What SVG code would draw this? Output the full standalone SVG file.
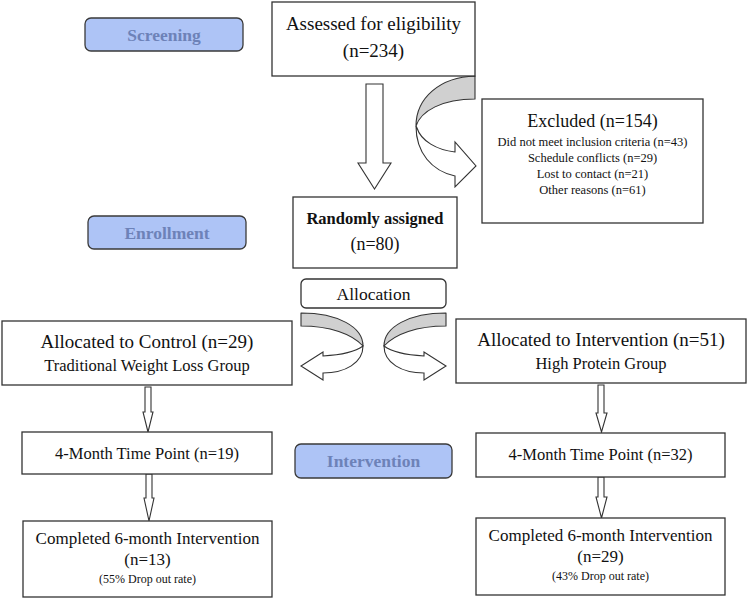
<svg xmlns="http://www.w3.org/2000/svg" width="747" height="599" viewBox="0 0 747 599">
<style>
  .box { fill: #ffffff; stroke: #333333; stroke-width: 1.3; }
  .pill { fill: #aec4f6; stroke: #3a3a3a; stroke-width: 1.3; }
  .t { font-family: "Liberation Serif", "DejaVu Serif", serif; fill: #111111; text-anchor: middle; }
  .ph { font-family: "Liberation Serif", "DejaVu Serif", serif; font-weight: bold; fill: #6d82b8; text-anchor: middle; font-size: 17.5px; }
  .arr { fill: #ffffff; stroke: #333333; stroke-width: 1.1; stroke-linejoin: miter; }
  .band { fill: #d0d0d0; stroke: #333333; stroke-width: 1.1; stroke-linejoin: round; }
</style>
<rect width="747" height="599" fill="#ffffff"/>

<g id="connectors">
  <!-- Assessed -> Randomly assigned -->
  <polygon class="arr" points="366,84 383,84 383,163 391,163 374.5,189 358,163 366,163"/>
  <!-- Assessed -> Excluded curved arrow -->
  <path class="band" d="M475,76 C440,77 416,98 416,126 C421,111 442,99 475,99 Z"/>
  <path class="arr" d="M416,126 C416,153 432,171 455,176 L455,187 L476,166 L455,142 L455,152 C437,150 421,141 417,128 Z"/>
  <!-- Allocation -> Control (left curved arrow) -->
  <g id="curve-left">
    <path class="band" d="M301,313 C338,313 363,327 363,346 C352,334 330,326 301,326 Z"/>
    <path class="arr" d="M363,346 C363,363 345,373 323,373 L323,380 L301,366 L323,352 L323,356 C340,355 355,352 363,346 Z"/>
  </g>
  <!-- Allocation -> Intervention (mirrored) -->
  <g id="curve-right" transform="translate(747,0) scale(-1,1)">
    <path class="band" d="M301,313 C338,313 363,327 363,346 C352,334 330,326 301,326 Z"/>
    <path class="arr" d="M363,346 C363,363 345,373 323,373 L323,380 L301,366 L323,352 L323,356 C340,355 355,352 363,346 Z"/>
  </g>
  <!-- small down arrows -->
  <polygon class="arr" points="145,387 151,387 151,412 153,412 148,432 143,412 145,412"/>
  <polygon class="arr" points="146,474 152,474 152,498 154,498 149,521 144,498 146,498"/>
  <polygon class="arr" points="598,385 604,385 604,413 607,413 601.5,432 596,413 598,413"/>
  <polygon class="arr" points="598,477 604,477 604,497 607,497 601.5,518 596,497 598,497"/>
</g>

<g id="phase-screening">
  <rect class="pill" x="85" y="18" width="158" height="33" rx="6"/>
  <text class="ph" x="164" y="41">Screening</text>
</g>
<g id="phase-enrollment">
  <rect class="pill" x="88" y="216" width="158" height="33" rx="6"/>
  <text class="ph" x="167" y="239">Enrollment</text>
</g>
<g id="phase-intervention">
  <rect class="pill" x="295" y="444" width="157" height="34" rx="6"/>
  <text class="ph" x="373.5" y="467">Intervention</text>
</g>

<g id="assessed">
  <rect class="box" x="272" y="2" width="203" height="74"/>
  <text class="t" x="373.5" y="30" font-size="19">Assessed for eligibility</text>
  <text class="t" x="373.5" y="57" font-size="19">(n=234)</text>
</g>

<g id="excluded">
  <rect class="box" x="482" y="99" width="221" height="124"/>
  <text class="t" x="592.5" y="127" font-size="18">Excluded (n=154)</text>
  <text class="t" x="592.5" y="146" font-size="12.5">Did not meet inclusion criteria (n=43)</text>
  <text class="t" x="592.5" y="162" font-size="12.5">Schedule conflicts (n=29)</text>
  <text class="t" x="592.5" y="178" font-size="12.5">Lost to contact (n=21)</text>
  <text class="t" x="592.5" y="194" font-size="12.5">Other reasons (n=61)</text>
</g>

<g id="randomized">
  <rect class="box" x="293" y="197" width="164" height="71"/>
  <text class="t" x="375" y="224" font-size="16.5" font-weight="bold">Randomly assigned</text>
  <text class="t" x="375" y="250" font-size="18">(n=80)</text>
</g>

<g id="allocation">
  <rect class="box" x="301" y="279" width="145" height="29" rx="5"/>
  <text class="t" x="373.5" y="300" font-size="17.5">Allocation</text>
</g>

<g id="control">
  <rect class="box" x="2" y="321" width="290" height="64"/>
  <text class="t" x="147" y="348" font-size="19">Allocated to Control (n=29)</text>
  <text class="t" x="147" y="371" font-size="16.5">Traditional Weight Loss Group</text>
</g>

<g id="intervention">
  <rect class="box" x="456" y="319" width="290" height="64"/>
  <text class="t" x="601" y="346" font-size="19">Allocated to Intervention (n=51)</text>
  <text class="t" x="601" y="369" font-size="16.5">High Protein Group</text>
</g>

<g id="control-4mo">
  <rect class="box" x="22" y="432" width="250" height="42"/>
  <text class="t" x="147" y="459" font-size="16.5">4-Month Time Point (n=19)</text>
</g>

<g id="intervention-4mo">
  <rect class="box" x="476" y="433" width="249" height="44"/>
  <text class="t" x="600.5" y="460" font-size="16.5">4-Month Time Point (n=32)</text>
</g>

<g id="control-6mo">
  <rect class="box" x="23" y="521" width="249" height="76"/>
  <text class="t" x="147.5" y="544" font-size="17">Completed 6-month Intervention</text>
  <text class="t" x="147.5" y="565" font-size="17">(n=13)</text>
  <text class="t" x="147.5" y="583" font-size="12">(55% Drop out rate)</text>
</g>

<g id="intervention-6mo">
  <rect class="box" x="476" y="518" width="249" height="77"/>
  <text class="t" x="600.5" y="541" font-size="17">Completed 6-month Intervention</text>
  <text class="t" x="600.5" y="562" font-size="17">(n=29)</text>
  <text class="t" x="600.5" y="580" font-size="12">(43% Drop out rate)</text>
</g>
</svg>
